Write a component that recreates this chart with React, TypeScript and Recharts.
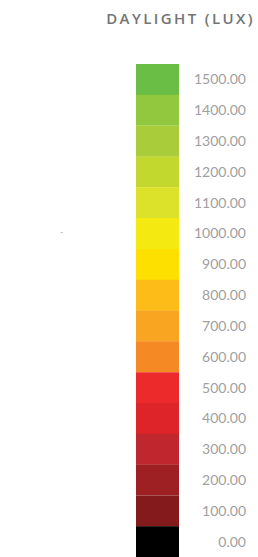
import { BarChart, Bar, XAxis, YAxis, Cell } from 'recharts'

// lux levels, top of the scale first
const levels = [1500, 1400, 1300, 1200, 1100, 1000, 900, 800, 700, 600, 500, 400, 300, 200, 100, 0]
const colors = [
  '#6abd45', '#92c83e', '#a9cd3a', '#c3d82f', '#dce22a', '#f4ea12', '#fde000', '#fdbc17',
  '#f9a521', '#f58a25', '#ed2a2b', '#de2428', '#c0262d', '#9e2022', '#841a1c', '#000000',
]
const cellSize = levels.map(() => 1)

const data = levels.map((l, i) => ({ label: l.toFixed(2), v: cellSize[i] }))

function Tick(props: any) {
  const { x, y, payload } = props
  return (
    <text x={x + 59} y={y} dy={5} textAnchor="end" fill="#a0a0a0" fontSize={14} fontFamily="Lato, 'Open Sans', sans-serif">
      {payload.value}
    </text>
  )
}

export default function App() {
  return (
    <div style={{ position: 'absolute', left: 0, top: 0, width: 258, height: 557, background: '#fff' }}>
      <div
        style={{
          position: 'absolute', right: 3, top: 8, fontFamily: "'Open Sans', sans-serif",
          fontSize: 15, fontWeight: 600, letterSpacing: 2.4, color: '#747474', whiteSpace: 'nowrap',
        }}
      >
        DAYLIGHT (LUX)
      </div>
      <div style={{ position: 'absolute', left: 60, top: 226, fontSize: 9, color: '#b5b5b5', fontFamily: 'Lato, sans-serif' }}>-</div>
      <BarChart
        width={258}
        height={557}
        data={data}
        layout="vertical"
        margin={{ top: 64, right: 0, bottom: 0, left: 136 }}
        barCategoryGap={0}
      >
        <XAxis type="number" domain={[0, 1]} hide />
        <YAxis
          type="category"
          dataKey="label"
          orientation="right"
          width={79}
          axisLine={false}
          tickLine={false}
          interval={0}
          tick={<Tick />}
        />
        <Bar dataKey="v" isAnimationActive={false}>
          {data.map((_, i) => (
            <Cell key={`c-${i}`} fill={colors[i]} />
          ))}
        </Bar>
      </BarChart>
    </div>
  )
}
